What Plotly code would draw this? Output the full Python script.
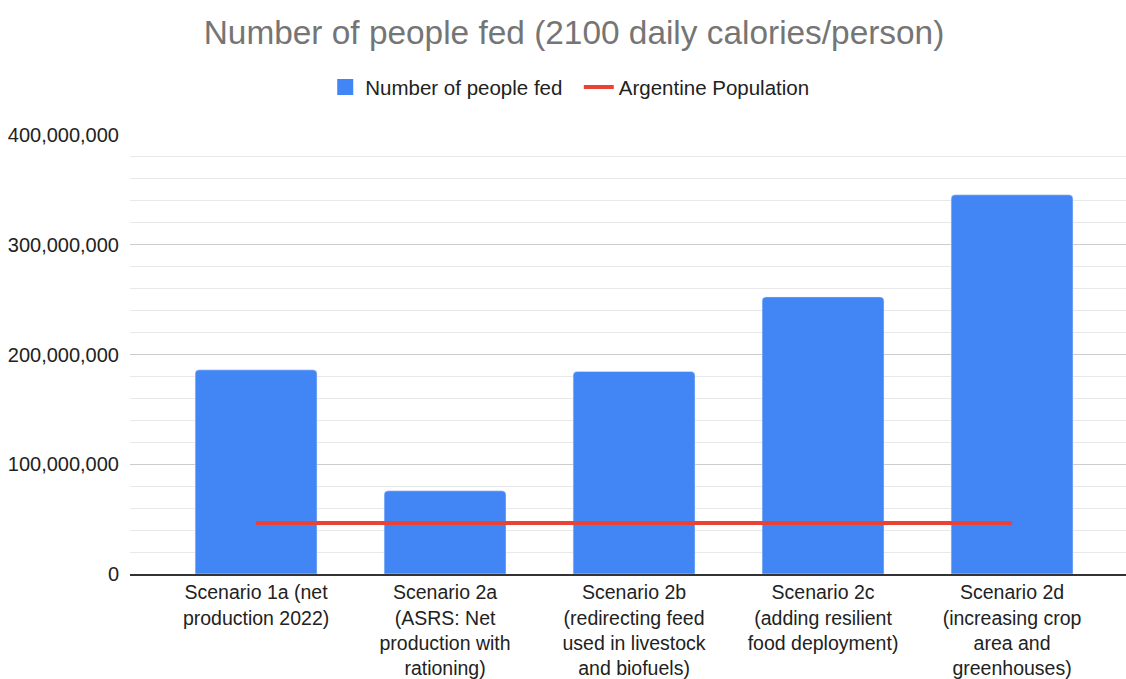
import plotly.graph_objects as go

categories = [
    "Scenario 1a (net<br>production 2022)",
    "Scenario 2a<br>(ASRS: Net<br>production with<br>rationing)",
    "Scenario 2b<br>(redirecting feed<br>used in livestock<br>and biofuels)",
    "Scenario 2c<br>(adding resilient<br>food deployment)",
    "Scenario 2d<br>(increasing crop<br>area and<br>greenhouses)",
]
people_fed = [186_000_000, 75_800_000, 184_500_000, 252_500_000, 345_500_000]
argentine_population = [46_500_000] * 5
y_ticks = [0, 100_000_000, 200_000_000, 300_000_000, 400_000_000]
y_tick_labels = ["0", "100,000,000", "200,000,000", "300,000,000", "400,000,000"]

BLUE = "#4285f4"
RED = "#ea4335"
x_idx = list(range(len(categories)))

fig = go.Figure()
fig.add_trace(go.Bar(
    x=x_idx, y=people_fed, name="Number of people fed",
    marker_color=BLUE, width=0.645, showlegend=False, legendgroup="fed",
))
# legend entry for the bars (bigger square swatch)
fig.add_trace(go.Scatter(
    x=[None], y=[None], mode="markers", name="Number of people fed  ",
    marker=dict(symbol="square", size=16, color=BLUE), legendgroup="fed",
))
fig.add_trace(go.Scatter(
    x=x_idx, y=argentine_population, name="Argentine Population",
    mode="lines", line=dict(color=RED, width=4),
))

fig.update_layout(
    width=1126, height=679,
    paper_bgcolor="white", plot_bgcolor="white",
    font=dict(family="Liberation Sans, Arial, sans-serif", size=19.5, color="#222222"),
    title=dict(text="Number of people fed (2100 daily calories/person)",
               x=0.5098, xanchor="center", y=0.953, yanchor="middle",
               font=dict(size=33.4, color="#757575")),
    legend=dict(orientation="h", x=0.4415, xanchor="center", y=1.109, yanchor="middle",
                font=dict(size=20.5, color="#222222"), itemwidth=30, itemsizing="trace"),
    margin=dict(l=130, r=0, t=135, b=105),
    barcornerradius=4,
    showlegend=True,
)
fig.update_xaxes(
    tickmode="array", tickvals=x_idx, ticktext=categories,
    range=[-0.667, 4.603], showgrid=False, showline=True, linecolor="#333333", linewidth=2,
    ticks="", tickfont=dict(size=19.5, color="#222222"), zeroline=False,
)
fig.update_yaxes(
    range=[0, 400_000_000], tickmode="array", tickvals=y_ticks, ticktext=y_tick_labels,
    showgrid=True, gridcolor="#cccccc", gridwidth=1, zeroline=False,
    minor=dict(dtick=20_000_000, showgrid=True, gridcolor="#e8e8e8", gridwidth=1),
    tickfont=dict(size=20, color="#222222"), ticks="", ticklabelstandoff=10,
)

fig.write_html(
    "out.html",
    config={"displayModeBar": False},
    post_script="document.body.style.margin='0';document.body.style.overflow='hidden';",
)
